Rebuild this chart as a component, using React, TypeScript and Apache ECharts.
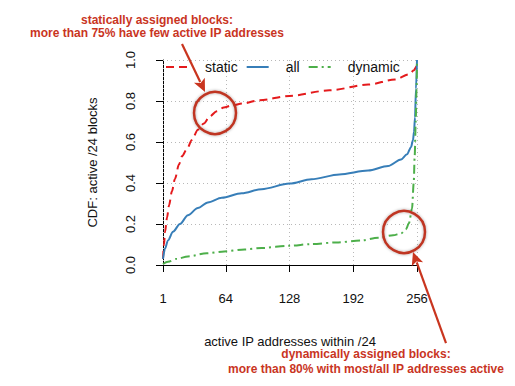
import React, { useEffect, useRef } from "react";
import * as echarts from "echarts";

const xTicks = [1, 64, 128, 192, 256];

const staticX = [1, 2, 3, 5, 7, 10, 13, 17, 20, 25, 30, 36, 42, 48, 55, 62, 70, 81, 98, 128, 168, 207, 234, 248, 253, 255, 256];
const staticY = [0.03, 0.1, 0.16, 0.23, 0.29, 0.36, 0.42, 0.49, 0.53, 0.565, 0.61, 0.66, 0.69, 0.725, 0.75, 0.768, 0.778, 0.788, 0.804, 0.825, 0.852, 0.88, 0.905, 0.93, 0.95, 0.965, 0.995];

const allX = [1, 3, 6, 11, 18, 26, 36, 46, 60, 80, 100, 128, 150, 178, 207, 227, 240, 246, 250, 252, 253, 254, 255, 256];
const allY = [0.03, 0.08, 0.12, 0.162, 0.2, 0.243, 0.278, 0.305, 0.328, 0.35, 0.37, 0.397, 0.418, 0.442, 0.461, 0.483, 0.515, 0.54, 0.575, 0.61, 0.65, 0.72, 0.86, 1.0];

const dynX = [1, 6, 15, 26, 45, 60, 83, 100, 128, 150, 175, 200, 217, 232, 240, 245, 248, 251, 252.7, 253.7, 254.7, 255.5, 256];
const dynY = [0.005, 0.016, 0.03, 0.042, 0.057, 0.065, 0.076, 0.083, 0.094, 0.102, 0.11, 0.12, 0.133, 0.145, 0.154, 0.175, 0.205, 0.275, 0.4, 0.534, 0.696, 0.858, 1.0];

const seriesNames = ["static", "all", "dynamic"];
const seriesColors = ["#e41a1c", "#377eb8", "#4daf4a"];

const topNote = ["statically assigned blocks:", "more than 75% have few active IP addresses"];
const bottomNote = ["dynamically assigned blocks:", "more than 80% with most/all IP addresses active"];

const ANN = "#c9351f";
const CIRC = "#bf3522";

function arrow(x1: number, y1: number, x2: number, y2: number) {
  const dx = x2 - x1, dy = y2 - y1;
  const L = Math.sqrt(dx * dx + dy * dy);
  const ux = dx / L, uy = dy / L;
  const hl = 13, hw = 6;
  const bx = x2 - ux * hl, by = y2 - uy * hl;
  const px = -uy * hw, py = ux * hw;
  return [
    { type: "line", shape: { x1, y1, x2: bx + ux * 2, y2: by + uy * 2 }, style: { stroke: ANN, lineWidth: 2.2 }, z: 20 },
    { type: "polygon", shape: { points: [[x2, y2], [bx + px, by + py], [bx + ux * 3, by + uy * 3], [bx - px, by - py]] }, style: { fill: ANN }, z: 20 },
  ];
}

function zip(xs: number[], ys: number[]) {
  return xs.map((x, i) => [x, ys[i]]);
}

export default function App() {
  const ref = useRef<HTMLDivElement>(null);
  useEffect(() => {
    if (!ref.current) return;
    const chart = echarts.init(ref.current, undefined, { renderer: "svg" });
    const font = "'Liberation Sans', Arial, Helvetica, sans-serif";
    const annFont = "'Liberation Sans', Arial, sans-serif";
    const lineTypes: any[] = [[8, 5], "solid", [9, 4, 2, 4]];
    const datas = [zip(staticX, staticY), zip(allX, allY), zip(dynX, dynY)];
    const option: any = {
      animation: false,
      textStyle: { fontFamily: font },
      grid: { left: 163, right: 98, top: 60, bottom: 121 },
      legend: {
        data: seriesNames,
        left: 165,
        top: 60,
        padding: 0,
        itemWidth: 22,
        itemHeight: 14,
        itemGap: 8,
        itemStyle: { opacity: 0 },
        textStyle: { fontSize: 14, color: "#111", fontFamily: font, padding: [0, 0, 0, 12] },
      },
      xAxis: {
        type: "value",
        min: 1,
        max: 256,
        name: "active IP addresses within /24",
        nameLocation: "middle",
        nameGap: 70,
        nameTextStyle: { fontSize: 13, color: "#111", fontFamily: font },
        axisLine: { show: true, onZero: false, lineStyle: { color: "#000", width: 1 } },
        axisTick: { show: true, length: 7, customValues: xTicks, lineStyle: { color: "#000", width: 1 } },
        axisLabel: { customValues: xTicks, fontSize: 13, color: "#111", margin: 27, fontFamily: font },
        splitLine: { show: false },
      },
      yAxis: {
        type: "value",
        min: 0,
        max: 1,
        interval: 0.2,
        name: "CDF: active /24 blocks",
        nameLocation: "middle",
        nameGap: 64,
        nameTextStyle: { fontSize: 13, color: "#111", fontFamily: font },
        axisLine: { show: true, onZero: false, lineStyle: { color: "#000", width: 1 } },
        axisTick: { show: true, length: 7, lineStyle: { color: "#000", width: 1 } },
        axisLabel: {
          rotate: 90,
          fontSize: 13,
          color: "#111",
          margin: 26,
          fontFamily: font,
          formatter: (v: number) => v.toFixed(1),
        },
        splitLine: { show: true, lineStyle: { type: [1, 3], color: "#b8b8b8", width: 1 } },
      },
      series: seriesNames.map((n, i) => ({
        name: n,
        type: "line",
        data: datas[i],
        symbol: "none",
        showSymbol: false,
        smooth: 0.3,
        smoothMonotone: "x",
        z: 5 + i,
        lineStyle: { color: seriesColors[i], width: 2, type: lineTypes[i] },
        itemStyle: { color: seriesColors[i] },
        markLine: i === 0 ? {
          silent: true,
          symbol: "none",
          z: 1,
          label: { show: false },
          lineStyle: { type: [1, 3], color: "#b8b8b8", width: 1 },
          data: xTicks.map((v) => ({ xAxis: v })),
        } : undefined,
      })),
      graphic: [
        { type: "text", x: 157, y: 20, style: { text: topNote[0], fill: ANN, font: `bold 12px ${annFont}`, align: "center", verticalAlign: "middle" }, z: 20 },
        { type: "text", x: 157, y: 33, style: { text: topNote[1], fill: ANN, font: `bold 12px ${annFont}`, align: "center", verticalAlign: "middle" }, z: 20 },
        { type: "text", x: 366, y: 354, style: { text: bottomNote[0], fill: ANN, font: `bold 12px ${annFont}`, align: "center", verticalAlign: "middle" }, z: 20 },
        { type: "text", x: 366, y: 369, style: { text: bottomNote[1], fill: ANN, font: `bold 12px ${annFont}`, align: "center", verticalAlign: "middle" }, z: 20 },
        { type: "circle", shape: { cx: 215, cy: 113, r: 21 }, style: { fill: "none", stroke: CIRC, lineWidth: 2.5, shadowBlur: 3, shadowColor: "rgba(0,0,0,0.35)" }, z: 20 },
        { type: "circle", shape: { cx: 404, cy: 232, r: 21 }, style: { fill: "none", stroke: CIRC, lineWidth: 2.5, shadowBlur: 3, shadowColor: "rgba(0,0,0,0.35)" }, z: 20 },
        ...arrow(182, 44, 205, 92),
        ...arrow(446, 343, 413, 252),
      ],
    };
    chart.setOption(option);
    return () => chart.dispose();
  }, []);
  return <div ref={ref} style={{ position: "absolute", left: 0, top: 0, width: 515, height: 386 }} />;
}
